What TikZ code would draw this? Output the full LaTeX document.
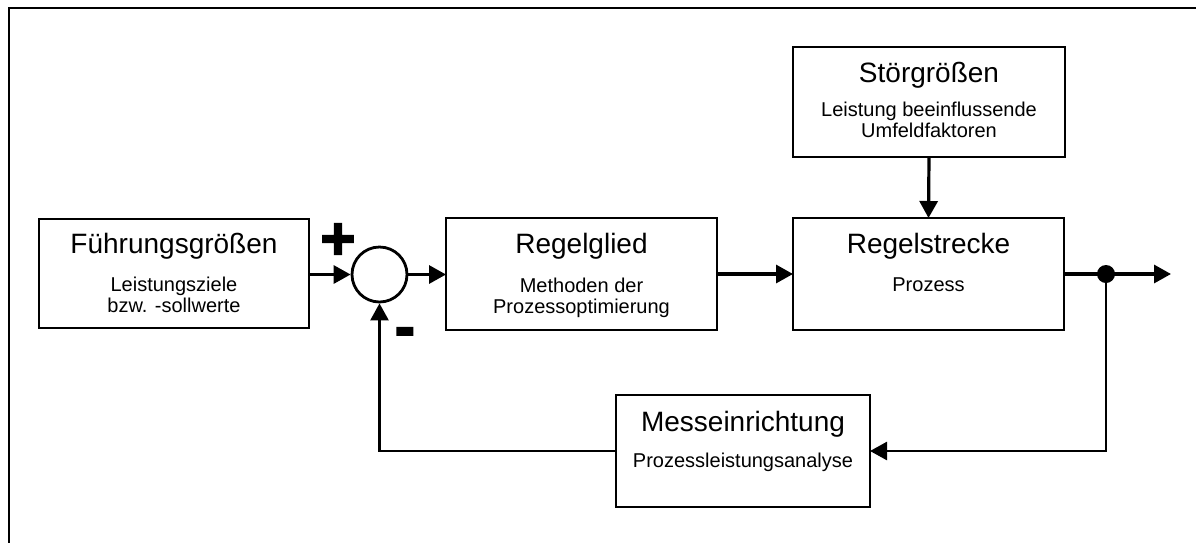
\documentclass[tikz,border=0pt]{standalone}
\usepackage{fontspec}
\setmainfont{Liberation Sans}
\newfontfamily\signfont[FakeBold=3]{Liberation Sans}
\usetikzlibrary{arrows.meta}

\begin{document}
\begin{tikzpicture}[x=1pt,y=-1pt,
  block/.style={draw, line width=2.9pt, inner sep=0pt, outer sep=0pt},
  title/.style={anchor=base, inner sep=0pt, font=\fontsize{28}{30}\selectfont},
  sub/.style={anchor=base, inner sep=0pt, align=center, font=\fontsize{20}{21}\selectfont},
  tip/.style={-{Triangle[length=17pt,width=18pt]}},
  flow/.style={line width=3.2pt, tip},
  back/.style={line width=2.6pt},
  sign/.style={anchor=base, inner sep=0pt, font=\signfont\bfseries\fontsize{60}{60}\selectfont}]

\useasboundingbox (0,0) rectangle (1196,542);

% outer frame (open towards the right and bottom edge)
\draw[line width=2.3pt] (9.3,543) -- (9.3,7.7) -- (1197,7.7);

% blocks of the control loop
\node[block, minimum width=270pt, minimum height=109pt] (fuehr)   at (174,273.5) {};
\node[block, minimum width=271pt, minimum height=112pt] (regel)   at (581.5,274) {};
\node[block, minimum width=271pt, minimum height=112pt] (strecke) at (928.5,274) {};
\node[block, minimum width=272pt, minimum height=110pt] (stoer)   at (929,102) {};
\node[block, minimum width=254pt, minimum height=112pt] (messe)   at (743,451) {};

% summing point
\node[draw, circle, line width=2.8pt, minimum size=55pt, inner sep=0pt] (sum) at (379.5,274.5) {};

% block texts (the base of a two-line text is its last line)
\node[title] (fuehrT) at ([yshift=-34pt]fuehr.north) {Führungsgrößen};
\node[sub]   (fuehrS) at ([yshift=-93pt]fuehr.north) {Leistungsziele\\bzw. -sollwerte};

\node[title] (regelT) at ([yshift=-35pt]regel.north) {Regelglied};
\node[sub]   (regelS) at ([yshift=-95pt]regel.north) {Methoden der\\Prozessoptimierung};

\node[title] (streckeT) at ([yshift=-35pt]strecke.north) {Regelstrecke};
\node[sub]   (streckeS) at ([yshift=-73pt]strecke.north) {Prozess};

\node[title] (stoerT) at ([yshift=-35pt]stoer.north) {Störgrößen};
\node[sub]   (stoerS) at ([yshift=-90pt]stoer.north) {Leistung beeinflussende\\Umfeldfaktoren};

\node[title] (messeT) at ([yshift=-36pt]messe.north) {Messeinrichtung};
\node[sub]   (messeS) at ([yshift=-72pt]messe.north) {Prozessleistungsanalyse};

% signs at the summing point
\node[sign] (plus)  at (338,259) {+};
\node[sign] (minus) at (405,347) {-};

% branch point and free output end
\node[circle, fill, minimum size=18pt, inner sep=0pt] (branch) at (1106,274) {};
\coordinate (out) at (1171,274);

% forward path
\draw[flow] (fuehr.east |- sum) -- (sum.west);
\draw[flow] (sum.east) -- (sum.east -| regel.west);
\draw[flow] (regel.east) -- (strecke.west);
\draw[flow] (stoer.south) -- (strecke.north);
\draw[flow] (strecke.east) -- (out);

% feedback path
\draw[back, tip] (branch.center) |- (messe.east);
\draw[back, tip] (messe.west) -| (sum.south);

\end{tikzpicture}
\end{document}
